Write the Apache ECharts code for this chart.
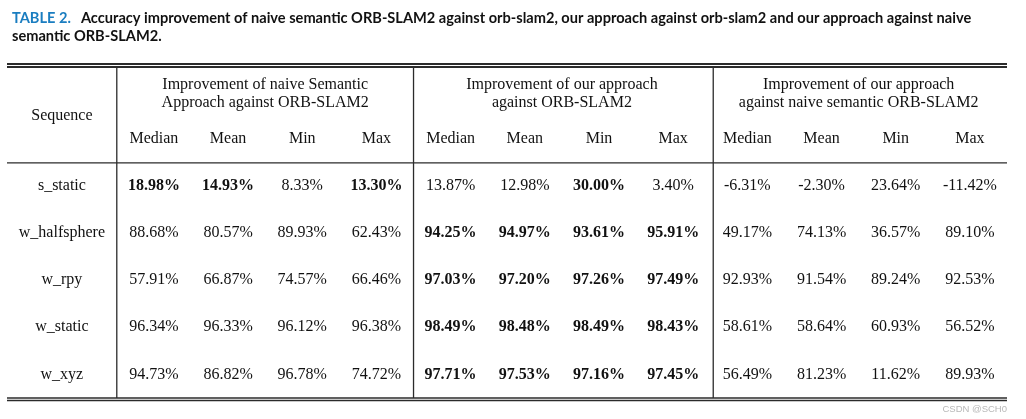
<!DOCTYPE html>
<html>
<head>
<meta charset="utf-8">
<script src="https://cdn.jsdelivr.net/npm/echarts@6/dist/echarts.min.js"></script>
<style>html,body{margin:0;padding:0;background:#fff;}#c{width:1026px;height:419px;}</style>
</head>
<body>
<div id="c"></div>
<script>
// ---------- data ----------
const sequences = ['s_static', 'w_halfsphere', 'w_rpy', 'w_static', 'w_xyz'];
const groupTitles = [
  'Improvement of naive Semantic\nApproach against ORB-SLAM2',
  'Improvement of our approach\nagainst ORB-SLAM2',
  'Improvement of our approach\nagainst naive semantic ORB-SLAM2'
];
const metricLabels = ['Median', 'Mean', 'Min', 'Max'];
const firstColumnLabel = 'Sequence';

const naiveMedian = [18.98, 88.68, 57.91, 96.34, 94.73];
const naiveMean   = [14.93, 80.57, 66.87, 96.33, 86.82];
const naiveMin    = [8.33, 89.93, 74.57, 96.12, 96.78];
const naiveMax    = [13.30, 62.43, 66.46, 96.38, 74.72];

const oursMedian = [13.87, 94.25, 97.03, 98.49, 97.71];
const oursMean   = [12.98, 94.97, 97.20, 98.48, 97.53];
const oursMin    = [30.00, 93.61, 97.26, 98.49, 97.16];
const oursMax    = [3.40, 95.91, 97.49, 98.43, 97.45];

const oursVsNaiveMedian = [-6.31, 49.17, 92.93, 58.61, 56.49];
const oursVsNaiveMean   = [-2.30, 74.13, 91.54, 58.64, 81.23];
const oursVsNaiveMin    = [23.64, 36.57, 89.24, 60.93, 11.62];
const oursVsNaiveMax    = [-11.42, 89.10, 92.53, 56.52, 89.93];

// ---------- build table ----------
const naiveCols = [naiveMedian, naiveMean, naiveMin, naiveMax];
const oursCols = [oursMedian, oursMean, oursMin, oursMax];
const thirdCols = [oursVsNaiveMedian, oursVsNaiveMean, oursVsNaiveMin, oursVsNaiveMax];

const SEQ_W = 1.48;            // width of the first column in column units
const HEAD_H = 2.05;           // header height in row units
const seqX = -0.5 - SEQ_W / 2;
const xMin = -0.5 - SEQ_W, xMax = 11.5;
const yMin = -HEAD_H, yMax = sequences.length;

const fmt = v => v.toFixed(2) + '%';
const cells = []; // [x, y, text, bold]
// header
cells.push([seqX, -0.98, firstColumnLabel, 0]);
groupTitles.forEach((t, g) => cells.push([g * 4 + 1.5, -1.45, t, 0]));
for (let g = 0; g < 3; g++) metricLabels.forEach((m, k) => cells.push([g * 4 + k, -0.49, m, 0]));
// body
sequences.forEach((s, r) => {
  const y = r + 0.5;
  cells.push([seqX, y, s, 0]);
  for (let k = 0; k < 4; k++) {
    const a = naiveCols[k][r], b = oursCols[k][r];
    cells.push([k, y, fmt(a), a > b ? 1 : 0]);
    cells.push([4 + k, y, fmt(b), b > a ? 1 : 0]);
    cells.push([8 + k, y, fmt(thirdCols[k][r]), 0]);
  }
});

// rules: [x1, y1, x2, y2, pixelOffsetY1, pixelOffsetY2, lineWidth]
const rules = [
  [xMin, yMin, xMax, yMin, -1, -1, 1.8],
  [xMin, yMin, xMax, yMin, 2, 2, 1.8],
  [xMin, 0, xMax, 0, 1, 1, 1.4],
  [xMin, yMax, xMax, yMax, 0, 0, 1.4],
  [xMin, yMax, xMax, yMax, 2.5, 2.5, 1.4],
  [-0.5, yMin, -0.5, yMax, 3, 0, 1.3],
  [3.5, yMin, 3.5, yMax, 3, 0, 1.3],
  [7.54, yMin, 7.54, yMax, 3, 0, 1.3]
];

const chart = echarts.init(document.getElementById('c'));
chart.setOption({
  backgroundColor: '#fff',
  animation: false,
  title: [{
    left: 7, top: 4,
    text: '{a|TABLE 2.}  {b|Accuracy improvement of naive semantic ORB-SLAM2 against orb-slam2, our approach against orb-slam2 and our approach against naive}\n{b|semantic ORB-SLAM2.}',
    textStyle: {
      rich: {
        a: { fontFamily: 'Lato', fontWeight: 'bold', fontSize: 14.6, color: '#1a7dc0', lineHeight: 18 },
        b: { fontFamily: 'Lato', fontWeight: 'bold', fontSize: 14.6, color: '#111', lineHeight: 18 }
      }
    }
  }, {
    right: 14, top: 399,
    text: 'CSDN @SCH0',
    textStyle: { fontFamily: 'Liberation Sans', fontSize: 9.5, fontWeight: 'normal', color: '#b8b8b8' }
  }],
  grid: { left: 7, right: 19, top: 65, bottom: 21 },
  xAxis: { type: 'value', min: xMin, max: xMax, show: false },
  yAxis: { type: 'value', min: yMin, max: yMax, inverse: true, show: false },
  series: [{
    type: 'custom',
    coordinateSystem: 'cartesian2d',
    data: rules,
    renderItem: (params, api) => {
      const p1 = api.coord([api.value(0), api.value(1)]);
      const p2 = api.coord([api.value(2), api.value(3)]);
      return {
        type: 'line',
        shape: { x1: p1[0], y1: p1[1] + api.value(4), x2: p2[0], y2: p2[1] + api.value(5) },
        style: { stroke: '#2b2b2b', lineWidth: api.value(6) }
      };
    }
  }, {
    type: 'custom',
    coordinateSystem: 'cartesian2d',
    data: cells,
    renderItem: (params, api) => {
      const d = cells[params.dataIndex];
      const p = api.coord([d[0], d[1]]);
      return {
        type: 'text',
        style: {
          text: d[2], x: p[0], y: p[1], align: 'center', verticalAlign: 'middle',
          fontFamily: 'Liberation Serif', fontSize: 16, lineHeight: 18,
          fontWeight: d[3] ? 'bold' : 'normal', fill: '#111'
        }
      };
    }
  }]
});
</script>
</body>
</html>
